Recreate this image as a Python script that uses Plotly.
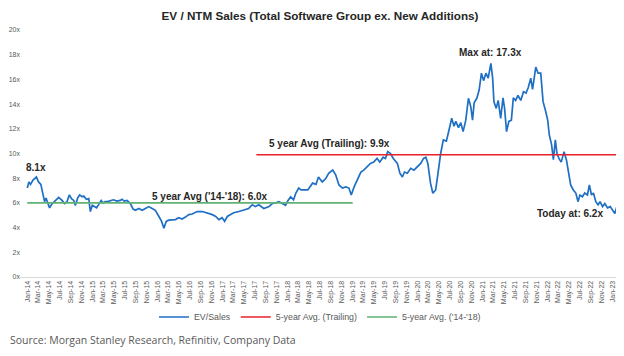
import plotly.graph_objects as go

# ---- data ----
dates = [
 "2014-01-01","2014-01-10","2014-01-19","2014-02-02","2014-02-21","2014-03-05","2014-03-18","2014-03-29",
 "2014-04-08","2014-04-16","2014-04-25","2014-05-06","2014-05-19","2014-06-08","2014-06-26","2014-07-15",
 "2014-07-29","2014-08-12","2014-08-25","2014-09-06","2014-09-19","2014-09-28","2014-10-11","2014-10-22",
 "2014-11-05","2014-11-14","2014-11-29","2014-12-12","2014-12-21","2015-01-01","2015-01-10","2015-01-25",
 "2015-02-07","2015-02-20","2015-03-02","2015-03-14","2015-03-27","2015-04-12","2015-04-30","2015-05-19",
 "2015-06-07","2015-06-17","2015-06-29","2015-07-15","2015-08-03","2015-08-18","2015-08-31","2015-09-19",
 "2015-10-08","2015-10-26","2015-11-14","2015-12-03","2015-12-21","2016-01-10","2016-01-25","2016-02-07",
 "2016-02-20","2016-03-05","2016-03-24","2016-04-12","2016-04-30","2016-05-19","2016-06-07","2016-06-26",
 "2016-07-15","2016-08-12","2016-09-10","2016-10-08","2016-11-05","2016-11-24","2016-12-12","2016-12-30",
 "2017-01-13","2017-01-28","2017-02-16","2017-03-05","2017-04-03","2017-04-30","2017-05-28","2017-06-17",
 "2017-07-05","2017-07-24","2017-08-21","2017-09-19","2017-10-08","2017-10-26","2017-11-14","2017-12-03",
 "2017-12-21","2018-01-04","2018-01-19","2018-02-04","2018-02-17","2018-03-05","2018-03-18","2018-04-25",
 "2018-05-22","2018-06-10","2018-06-24","2018-07-15","2018-08-03","2018-08-20","2018-09-12","2018-09-28",
 "2018-10-17","2018-11-05","2018-11-24","2018-12-12","2018-12-25","2019-01-10","2019-01-29","2019-02-17",
 "2019-03-05","2019-03-24","2019-04-12","2019-04-30","2019-05-19","2019-06-03","2019-06-22","2019-07-05",
 "2019-07-18","2019-08-03","2019-08-18","2019-09-10","2019-09-24","2019-10-08","2019-10-20","2019-11-05",
 "2019-11-24","2019-12-12","2019-12-31","2020-01-19","2020-02-04","2020-02-17","2020-02-28","2020-03-14",
 "2020-03-27","2020-04-12","2020-04-25","2020-05-10","2020-05-25","2020-06-11","2020-06-26","2020-07-11",
 "2020-07-24","2020-08-03","2020-08-18","2020-08-31","2020-09-13","2020-09-28","2020-10-13","2020-10-26",
 "2020-11-05","2020-11-14","2020-11-29","2020-12-12","2020-12-25","2021-01-06","2021-01-19","2021-02-01",
 "2021-02-16","2021-02-26","2021-03-05","2021-03-18","2021-03-29","2021-04-12","2021-04-25","2021-05-04",
 "2021-05-15","2021-05-28","2021-06-11","2021-06-22","2021-07-05","2021-07-18","2021-08-03","2021-08-18",
 "2021-09-01","2021-09-13","2021-09-28","2021-10-08","2021-10-26","2021-11-08","2021-11-23","2021-12-06",
 "2021-12-21","2022-01-01","2022-01-10","2022-01-23","2022-02-02","2022-02-13","2022-02-22","2022-03-05",
 "2022-03-18","2022-04-03","2022-04-16","2022-04-27","2022-05-10","2022-05-25","2022-06-08","2022-06-20",
 "2022-07-01","2022-07-15","2022-07-28","2022-08-12","2022-08-23","2022-09-04","2022-09-15","2022-09-28",
 "2022-10-11","2022-10-22","2022-11-05","2022-11-18","2022-12-03","2022-12-18","2023-01-01","2023-01-13",
 "2023-01-28","2023-02-07",
]
ev_sales = [
 7.2,7.7,7.5,7.85,8.1,7.7,7.5,6.8,
 6.1,6.4,6.0,5.6,5.9,6.2,6.45,6.2,
 5.95,6.1,6.65,6.35,6.2,5.8,6.4,6.65,
 6.5,6.55,6.3,6.35,5.3,5.8,5.7,5.6,
 5.9,6.2,6.0,6.1,6.1,6.2,6.25,6.15,
 6.2,6.3,6.15,6.2,5.95,5.5,5.4,5.55,
 5.4,5.55,5.7,5.55,5.4,4.9,4.5,3.95,
 4.5,4.6,4.6,4.65,4.8,4.7,4.85,5.05,
 5.1,5.3,5.3,5.2,5.05,4.9,4.65,4.8,
 4.5,4.9,5.05,5.2,5.3,5.4,5.55,5.85,
 5.7,5.85,5.55,5.7,5.95,6.0,6.1,5.95,
 5.8,6.2,6.5,6.25,6.8,7.2,7.05,7.05,
 7.6,7.5,8.1,7.7,7.95,8.4,8.66,8.3,
 7.45,7.2,7.3,7.2,6.64,7.3,7.85,8.5,
 8.65,8.93,9.2,9.3,9.6,9.3,9.7,9.6,
 10.15,10.0,9.6,9.2,8.4,8.1,8.5,8.4,
 8.8,8.65,8.93,9.2,9.6,9.7,9.2,7.6,
 6.78,7.05,8.4,10.0,11.1,11.0,11.9,12.85,
 12.2,12.6,12.1,12.5,11.77,12.7,14.47,13.8,
 12.7,14.1,14.47,15.14,16.5,15.9,16.5,16.1,
 17.3,16.1,14.2,13.65,14.3,12.85,14.5,13.65,
 11.77,12.6,12.7,14.5,14.3,14.7,14.3,15.0,
 14.9,15.3,16.1,15.2,17.0,16.5,16.5,14.2,
 13.4,12.7,11.5,10.7,9.5,11.1,10.0,9.6,
 9.3,10.15,9.5,8.5,7.45,7.05,6.8,6.1,
 6.64,6.5,6.8,6.64,7.45,6.64,6.8,6.1,
 5.85,6.1,5.7,5.95,5.6,5.7,5.4,5.15,
 5.85,6.2,
]
trailing_avg_value = 9.9
trailing_avg_dates = ["2017-07-10", "2023-02-07"]
hist_avg_value = 6.0
hist_avg_dates = ["2014-01-01", "2019-01-02"]

y_ticks = [0, 2, 4, 6, 8, 10, 12, 14, 16, 18, 20]
y_tick_labels = ["0x", "2x", "4x", "6x", "8x", "10x", "12x", "14x", "16x", "18x", "20x"]

title = "EV / NTM Sales (Total Software Group ex. New Additions)"
source = "Source: Morgan Stanley Research, Refinitiv, Company Data"

BLUE = "#1F6FC5"
RED = "#E8202A"
GREEN = "#5FB274"
TXT = "#262626"
GRAY = "#595959"

# the page body adds an 8px offset; the figure is sized to fit the 624x356 window
W, H = 616, 348
ML, MR, MT, MB = 12, 4, 22, 79
PW, PH = W - ML - MR, H - MT - MB

fig = go.Figure()
fig.add_trace(go.Scatter(x=dates, y=ev_sales, mode="lines", name="EV/Sales",
                         line=dict(color=BLUE, width=1.7)))
fig.add_trace(go.Scatter(x=trailing_avg_dates, y=[trailing_avg_value] * 2, mode="lines",
                         name="5-year Avg. (Trailing)", line=dict(color=RED, width=1.6)))
fig.add_trace(go.Scatter(x=hist_avg_dates, y=[hist_avg_value] * 2, mode="lines",
                         name="5-year Avg. ('14-'18)", line=dict(color=GREEN, width=1.6)))

ann_font = dict(family="Liberation Sans, Arial", size=10, color=TXT)
anns = [
    dict(x="2014-02-19", y=8.83, text="<b>8.1x</b>"),
    dict(x="2016-10-25", y=6.52, text="<b>5 year Avg ('14-'18): 6.0x</b>"),
    dict(x="2018-08-25", y=10.85, text="<b>5 year Avg (Trailing): 9.9x</b>"),
    dict(x="2021-02-15", y=18.14, text="<b>Max at: 17.3x</b>"),
    dict(x="2022-05-04", y=5.18, text="<b>Today at: 6.2x</b>"),
]
for a in anns:
    fig.add_annotation(x=a["x"], y=a["y"], xref="x", yref="y", text=a["text"],
                       showarrow=False, font=ann_font, xanchor="center", yanchor="middle")

fig.add_annotation(x=-ML / PW, y=-63 / PH, xref="paper", yref="paper",
                   text=source, showarrow=False, xanchor="left", yanchor="middle",
                   font=dict(family="Open Sans", size=10.5, color=GRAY))

fig.update_layout(
    width=W, height=H,
    margin=dict(l=ML, r=MR, t=MT, b=MB),
    paper_bgcolor="white", plot_bgcolor="white",
    title=dict(text="<b>" + title + "</b>", x=0.5, xref="paper", xanchor="center",
               y=1 - 8 / H, yanchor="middle",
               font=dict(family="Liberation Sans, Arial", size=11.7, color=TXT)),
    font=dict(family="Liberation Sans, Arial", color=GRAY),
    showlegend=True,
    legend=dict(orientation="h", x=0.5, xanchor="center",
                y=-40 / PH, yanchor="middle",
                font=dict(size=8.8, color=GRAY), itemwidth=30,
                bgcolor="rgba(0,0,0,0)"),
    xaxis=dict(type="date", range=["2013-11-21", "2023-02-11"], automargin=False,
               tick0="2014-01-01", dtick="M2", tickformat="%b-%y",
               tickangle=-90, tickfont=dict(size=7, color=GRAY),
               showgrid=False, zeroline=False, showline=True,
               linecolor="#D9D9D9", linewidth=1, ticks=""),
    yaxis=dict(range=[0, 20], tickvals=y_ticks, ticktext=y_tick_labels, automargin=False,
               tickfont=dict(size=7, color=GRAY), showgrid=False, ticklabelstandoff=-1,
               zeroline=False, showline=False, ticks=""),
)

fig.write_html("out.html")
